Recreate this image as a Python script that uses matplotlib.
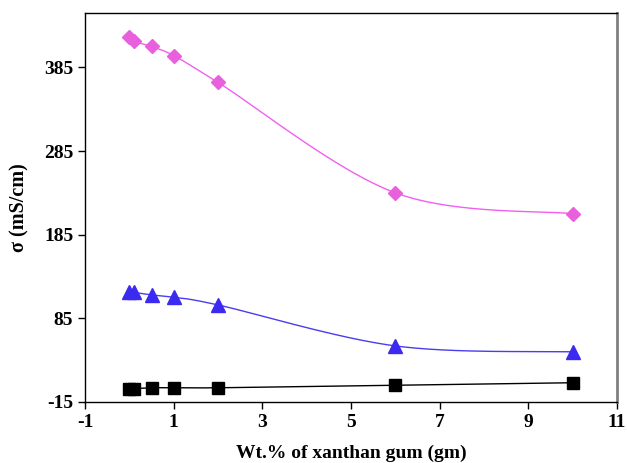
import numpy as np
import matplotlib
matplotlib.use("Agg")
import matplotlib.pyplot as plt

x = [0, 0.1, 0.5, 1, 2, 6, 10]
pink = [421, 416, 410, 399, 367, 235, 210]
blue = [117, 116, 113, 110, 101, 52, 45]
black = [1, 1, 2, 2, 2, 5, 8]

xticks = [-1, 1, 3, 5, 7, 9, 11]
yticks = [-15, 85, 185, 285, 385]


def smooth(xs, ys, n=30):
    xs = np.asarray(xs, float); ys = np.asarray(ys, float)
    P = np.column_stack([xs, ys])
    out = []
    for i in range(len(P) - 1):
        p0 = P[i - 1] if i > 0 else P[i]
        p1, p2 = P[i], P[i + 1]
        p3 = P[i + 2] if i + 2 < len(P) else P[i + 1]
        c1 = p1 + (p2 - p0) / 6
        c2 = p2 - (p3 - p1) / 6
        t = np.linspace(0, 1, n)[:, None]
        seg = (1 - t) ** 3 * p1 + 3 * (1 - t) ** 2 * t * c1 + 3 * (1 - t) * t ** 2 * c2 + t ** 3 * p2
        out.append(seg)
    s = np.vstack(out)
    return s[:, 0], s[:, 1]


plt.rcParams['font.family'] = ['Liberation Serif', 'DejaVu Serif']
plt.rcParams['axes.unicode_minus'] = False
fig = plt.figure(figsize=(6.27, 4.63), dpi=100)
ax = fig.add_axes([0.1356, 0.1318, 0.8484, 0.8402])

for ys, col, lc, m, ms in [(pink, '#E860DC', '#F060F0', 'D', 7),
                           (blue, '#3B2AF0', '#4A3CF0', '^', 9.5),
                           (black, '#000000', '#000000', 's', 8.5)]:
    sx, sy = smooth(x, ys)
    ax.plot(sx, sy, color=lc, lw=1.0, zorder=2)
    ax.plot(x, ys, linestyle='none', marker=m, ms=ms, color=col, mec=col, zorder=3, clip_on=False)

ax.set_xlim(-1, 11)
ax.set_ylim(-15, 450)
ax.set_xticks(xticks)
ax.set_yticks(yticks)
ax.tick_params(direction='out', length=5, width=1, labelsize=14)
for lab in ax.get_xticklabels() + ax.get_yticklabels():
    lab.set_fontweight('bold')
ax.set_xlabel('Wt.% of xanthan gum (gm)', fontsize=14, fontweight='bold', labelpad=10)
ax.set_ylabel('σ (mS/cm)', fontsize=14.5, fontweight='bold', labelpad=10)
for s in ['left', 'bottom', 'top']:
    ax.spines[s].set_linewidth(1.0)
ax.spines['right'].set_color('#808080')
ax.spines['right'].set_linewidth(2.0)

fig.savefig('out.png', dpi=100)
